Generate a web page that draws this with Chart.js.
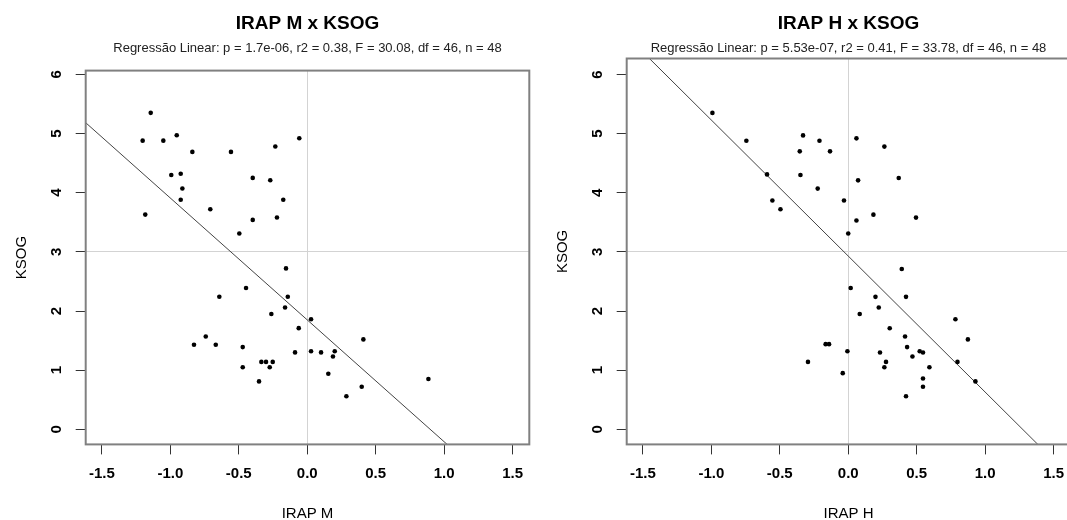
<!DOCTYPE html>
<html>
<head>
<meta charset="utf-8">
<title>IRAP x KSOG</title>
<script src="https://cdn.jsdelivr.net/npm/chart.js@4.4.1/dist/chart.umd.min.js"></script>
<style>
    html, body { margin: 0; padding: 0; background: #fff; overflow: hidden; }
    .panels { display: flex; width: 1082px; height: 520px; }
    .panels canvas { display: block; }
</style>
</head>
<body>
<div class="panels">
    <canvas id="chartM" width="541" height="520"></canvas>
    <canvas id="chartH" width="541" height="520"></canvas>
</div>
<script>
// ========================================
// IRAP x KSOG - scatter + linear fit
// ========================================

// --- data ---
const irapM = [
    -1.143, -1.202, -1.051, -0.953, -0.839, -0.557, -0.233, -0.058, -0.993, -0.924,
    -0.912, -0.924, -1.183, -0.708, -0.398, -0.270, -0.175, -0.398, -0.221, -0.496,
    -0.155, -0.447, -0.642, -0.142, -0.162, -0.262, -0.062, -0.741, -0.827, -0.668,
    -0.471, -0.089, -0.335, -0.301, -0.252, -0.471, -0.274, -0.352, 0.028, 0.028,
    0.101, 0.201, 0.188, 0.410, 0.154, 0.398, 0.286, 0.885
];
const ksogM = [
    5.35, 4.88, 4.88, 4.97, 4.69, 4.69, 4.78, 4.92, 4.30, 4.32,
    4.07, 3.88, 3.63, 3.72, 4.25, 4.21, 3.88, 3.54, 3.58, 3.31,
    2.72, 2.39, 2.24, 2.24, 2.06, 1.95, 1.71, 1.57, 1.43, 1.43,
    1.39, 1.30, 1.14, 1.14, 1.14, 1.05, 1.05, 0.81, 1.86, 1.32,
    1.30, 1.32, 1.23, 1.52, 0.94, 0.72, 0.56, 0.85
];
const irapH = [
    -0.992, -0.744, -0.330, -0.210, -0.354, -0.133, -0.593, -0.349, -0.223, -0.554,
    -0.495, 0.060, 0.264, 0.072, 0.369, -0.031, 0.184, 0.060, 0.495, 0.000,
    -0.294, -0.165, -0.140, 0.391, 0.018, 0.199, 0.422, 0.223, 0.084, 0.303,
    0.783, 0.415, 0.874, 0.430, -0.006, 0.522, 0.546, 0.232, 0.469, 0.798,
    0.276, 0.264, 0.593, -0.040, 0.546, 0.546, 0.929, 0.422
];
const ksogH = [
    5.35, 4.88, 4.97, 4.88, 4.70, 4.70, 4.31, 4.30, 4.07, 3.87,
    3.72, 4.92, 4.78, 4.21, 4.25, 3.87, 3.63, 3.53, 3.58, 3.31,
    1.14, 1.44, 1.44, 2.71, 2.39, 2.24, 2.24, 2.06, 1.95, 1.71,
    1.86, 1.57, 1.52, 1.39, 1.32, 1.32, 1.30, 1.30, 1.23, 1.14,
    1.14, 1.05, 1.05, 0.95, 0.86, 0.72, 0.81, 0.56
];

// fitted lines: [intercept, slope]
const fitM = [1.85, -2.06];
const fitH = [2.93, -2.30];

const xTicks = [-1.5, -1.0, -0.5, 0.0, 0.5, 1.0, 1.5];
const yTicks = [0, 1, 2, 3, 4, 5, 6];

const FONT = '"Liberation Sans", Arial, sans-serif';

/**
 * Draws the R-like decorations: box, rotated y labels, title and subtitle
 */
const rDecor = {
    id: 'rDecor',
    afterDraw(chart, args, opts) {
        const { ctx, chartArea: a, scales } = chart;
        ctx.save();

        // plot box
        ctx.strokeStyle = '#808080';
        ctx.lineWidth = 2;
        ctx.strokeRect(a.left, a.top, a.right - a.left, a.bottom - a.top);

        // y tick labels, parallel to the axis
        ctx.fillStyle = '#000';
        ctx.font = 'bold 15px ' + FONT;
        ctx.textAlign = 'center';
        ctx.textBaseline = 'middle';
        yTicks.forEach(v => {
            const py = scales.y.getPixelForValue(v);
            ctx.save();
            ctx.translate(57, py);
            ctx.rotate(-Math.PI / 2);
            ctx.fillText(String(v), 0, 0);
            ctx.restore();
        });

        // titles
        const cx = (a.left + a.right) / 2;
        ctx.textBaseline = 'alphabetic';
        ctx.font = 'bold 19px ' + FONT;
        ctx.fillText(opts.title, cx, 29);
        ctx.font = '13px ' + FONT;
        ctx.fillStyle = '#222';
        ctx.fillText(opts.subtitle, cx, 52);

        ctx.restore();
    }
};

/**
 * Build one scatter panel
 */
function buildPanel(canvasId, xs, ys, fit, xLabel, title, subtitle, top, yMax) {
    const points = xs.map((x, i) => ({ x: x, y: ys[i] }));
    const lineX = [-1.7, 1.7];
    const fitLine = lineX.map(x => ({ x: x, y: fit[0] + fit[1] * x }));

    return new Chart(document.getElementById(canvasId), {
        type: 'scatter',
        data: {
            datasets: [{
                data: points,
                pointRadius: 2.3,
                pointBackgroundColor: '#000',
                pointBorderWidth: 0
            }, {
                type: 'line',
                data: fitLine,
                borderColor: '#444',
                borderWidth: 1,
                pointRadius: 0,
                fill: false
            }]
        },
        options: {
            responsive: false,
            animation: false,
            layout: {
                padding: { top: top, right: 11.7, left: 0, bottom: 0 }
            },
            plugins: {
                legend: { display: false },
                tooltip: { enabled: false },
                rDecor: { title: title, subtitle: subtitle }
            },
            scales: {
                x: {
                    type: 'linear',
                    min: -1.618,
                    max: 1.622,
                    afterBuildTicks: s => { s.ticks = xTicks.map(v => ({ value: v })); },
                    afterFit: s => { s.height = 75.6; },
                    border: { display: false },
                    grid: {
                        color: c => (c.tick && c.tick.value === 0) ? '#d3d3d3' : 'rgba(0,0,0,0)',
                        tickColor: '#333',
                        tickLength: 10
                    },
                    ticks: {
                        color: '#000',
                        padding: 10,
                        maxRotation: 0,
                        font: { family: FONT, size: 15, weight: 'bold' },
                        callback: v => Number(v).toFixed(1)
                    },
                    title: {
                        display: true,
                        text: xLabel,
                        color: '#000',
                        font: { family: FONT, size: 15, lineHeight: 1 },
                        padding: { top: 0, bottom: -1.5 }
                    }
                },
                y: {
                    type: 'linear',
                    min: -0.255,
                    max: yMax,
                    afterBuildTicks: s => { s.ticks = yTicks.map(v => ({ value: v })); },
                    afterFit: s => { s.width = 85.7; },
                    border: { display: false },
                    grid: {
                        color: c => (c.tick && c.tick.value === 3) ? '#d3d3d3' : 'rgba(0,0,0,0)',
                        tickColor: '#333',
                        tickLength: 10
                    },
                    ticks: { display: false },
                    title: {
                        display: true,
                        text: 'KSOG',
                        color: '#000',
                        font: { family: FONT, size: 15 },
                        padding: { top: 13, bottom: 0 }
                    }
                }
            }
        },
        plugins: [rDecor]
    });
}

buildPanel('chartM', irapM, ksogM, fitM, 'IRAP M', 'IRAP M x KSOG',
    'Regressão Linear: p = 1.7e-06, r2 = 0.38, F = 30.08, df = 46, n = 48', 70.6, 6.064);
buildPanel('chartH', irapH, ksogH, fitH, 'IRAP H', 'IRAP H x KSOG',
    'Regressão Linear: p = 5.53e-07, r2 = 0.41, F = 33.78, df = 46, n = 48', 58.5, 6.27);
</script>
</body>
</html>
